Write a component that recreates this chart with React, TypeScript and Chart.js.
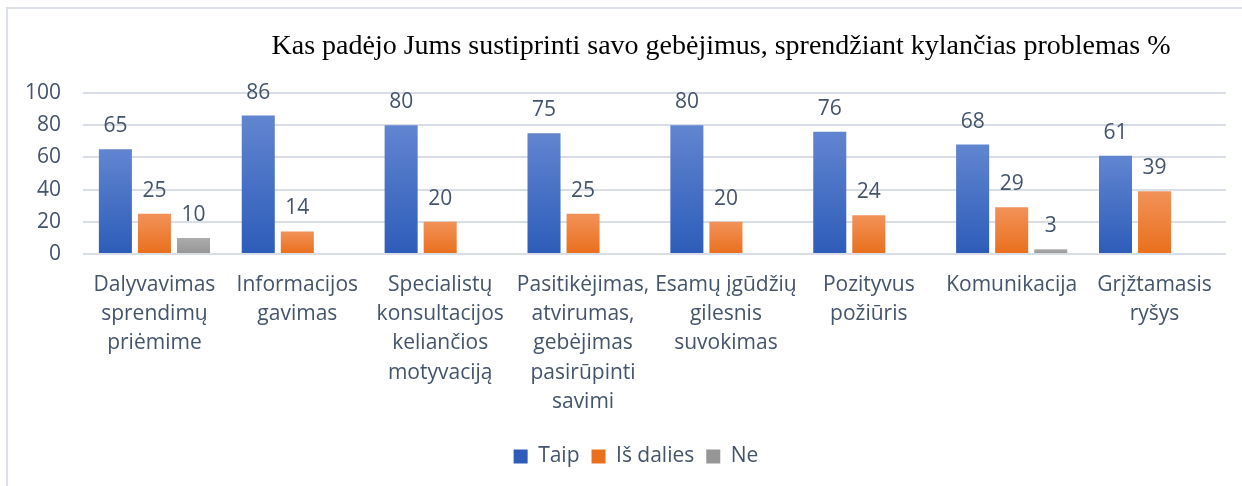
import React, { useEffect, useRef } from "react";
import { Chart, registerables } from "chart.js";

Chart.register(...registerables);

const TITLE = "Kas padėjo Jums sustiprinti savo gebėjimus, sprendžiant kylančias problemas %";

const categories: string[][] = [
  ["Dalyvavimas", "sprendimų", "priėmime"],
  ["Informacijos", "gavimas"],
  ["Specialistų", "konsultacijos", "keliančios", "motyvaciją"],
  ["Pasitikėjimas,", "atvirumas,", "gebėjimas", "pasirūpinti", "savimi"],
  ["Esamų įgūdžių", "gilesnis", "suvokimas"],
  ["Pozityvus", "požiūris"],
  ["Komunikacija"],
  ["Grįžtamasis", "ryšys"],
];

const taip: (number | null)[] = [65, 86, 80, 75, 80, 76, 68, 61];
const isDalies: (number | null)[] = [25, 14, 20, 25, 20, 24, 29, 39];
const ne: (number | null)[] = [10, null, null, null, null, null, 3, null];

const seriesNames = ["Taip", "Iš dalies", "Ne"];
const seriesGradients: [string, string][] = [
  ["#6185D0", "#2D5CB9"],
  ["#F29259", "#E96F1C"],
  ["#ACACAC", "#969696"],
];

const FONT = "'Open Sans'";
const FS = 21;
const TEXT = "#44546A";

function makeGradient(idx: number) {
  return (c: any) => {
    const chart = c.chart;
    const area = chart.chartArea;
    const [top, bottom] = seriesGradients[idx];
    if (!area || c.type !== "data") return bottom;
    const v = c.raw;
    if (v == null) return bottom;
    const ys = chart.scales.y;
    const y0 = ys.getPixelForValue(v);
    const y1 = ys.getPixelForValue(0);
    if (!isFinite(y0) || !isFinite(y1) || y0 === y1) return bottom;
    const g = chart.ctx.createLinearGradient(0, y0, 0, y1);
    g.addColorStop(0, top);
    g.addColorStop(1, bottom);
    return g;
  };
}

const framePlugin = {
  id: "frameAndTitle",
  afterLayout(chart: any) {
    if (chart.legend) {
      chart.legend.left += 36;
    }
  },
  beforeDraw(chart: any) {
    const ctx = chart.ctx;
    ctx.save();
    ctx.fillStyle = "#ffffff";
    ctx.fillRect(0, 0, chart.width, chart.height);
    ctx.strokeStyle = "#DCE1E8";
    ctx.lineWidth = 2;
    ctx.beginPath();
    ctx.moveTo(7, chart.height);
    ctx.lineTo(7, 8);
    ctx.lineTo(chart.width, 8);
    ctx.stroke();
    ctx.fillStyle = "#000000";
    ctx.font = "28px 'Liberation Serif'";
    ctx.textAlign = "center";
    ctx.textBaseline = "middle";
    ctx.fillText(TITLE, 721, 47);
    ctx.restore();
  },
};

const labelPlugin = {
  id: "valueLabels",
  afterDatasetsDraw(chart: any) {
    const ctx = chart.ctx;
    ctx.save();
    ctx.font = `${FS}px ${FONT}`;
    ctx.fillStyle = TEXT;
    ctx.textAlign = "center";
    ctx.textBaseline = "middle";
    chart.data.datasets.forEach((ds: any, di: number) => {
      const meta = chart.getDatasetMeta(di);
      meta.data.forEach((el: any, i: number) => {
        const v = ds.data[i];
        if (v == null) return;
        ctx.fillText(String(v), el.x, el.y - 23);
      });
    });
    ctx.restore();
  },
};

export default function App() {
  const ref = useRef<HTMLCanvasElement | null>(null);
  useEffect(() => {
    if (!ref.current) return;
    const data = [taip, isDalies, ne];
    const chart = new Chart(ref.current, {
      type: "bar",
      data: {
        labels: categories,
        datasets: data.map((d, i) => ({
          label: seriesNames[i],
          data: d,
          backgroundColor: makeGradient(i),
          categoryPercentage: 0.82,
          barPercentage: 0.846,
        })),
      },
      options: {
        responsive: true,
        maintainAspectRatio: false,
        animation: false,
        layout: { padding: { left: 10, right: 16, top: 93, bottom: 9 } },
        plugins: {
          title: { display: false },
          tooltip: { enabled: false },
          legend: {
            position: "bottom",
            labels: {
              boxWidth: 14,
              boxHeight: 14,
              padding: 12,
              color: TEXT,
              font: { family: FONT, size: FS },
              generateLabels: (ch: any) =>
                ch.data.datasets.map((ds: any, i: number) => {
                  const [, bottom] = seriesGradients[i];
                  return {
                    text: ds.label,
                    fillStyle: bottom,
                    strokeStyle: "rgba(0,0,0,0)",
                    lineWidth: 0,
                    fontColor: TEXT,
                    datasetIndex: i,
                    hidden: false,
                  };
                }),
            },
          },
        },
        scales: {
          x: {
            grid: { display: false, drawTicks: false },
            border: { display: false },
            ticks: {
              autoSkip: false,
              maxRotation: 0,
              minRotation: 0,
              padding: 16,
              color: TEXT,
              font: { family: FONT, size: FS, lineHeight: 1.4 },
            },
            afterFit: (s: any) => {
              s.height = 180;
            },
          },
          y: {
            min: 0,
            max: 100,
            ticks: {
              stepSize: 20,
              padding: 22,
              color: TEXT,
              font: { family: FONT, size: FS },
            },
            grid: { color: "#D9DEE6", lineWidth: 2, drawTicks: false },
            border: { display: false },
            afterFit: (s: any) => {
              s.width = 73;
            },
          },
        },
      },
      plugins: [framePlugin, labelPlugin],
    } as any);
    return () => chart.destroy();
  }, []);

  return (
    <div style={{ position: "fixed", left: 0, top: 0, width: 1242, height: 486 }}>
      <canvas ref={ref} />
    </div>
  );
}
